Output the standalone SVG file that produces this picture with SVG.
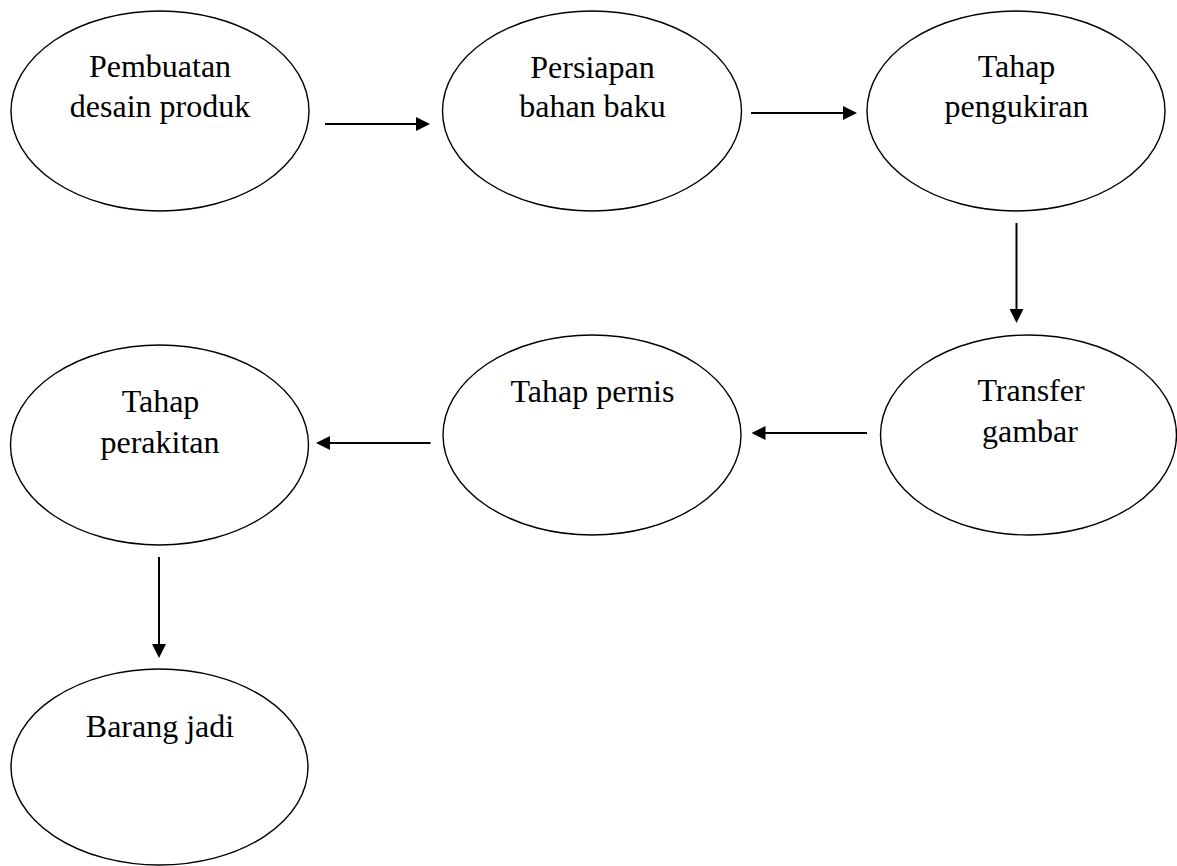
<svg xmlns="http://www.w3.org/2000/svg" width="1177" height="866" viewBox="0 0 1177 866">
<style>
.node ellipse { fill: #ffffff; stroke: #000000; stroke-width: 1.4; }
.node text { font-family: "Liberation Serif", "Times New Roman", serif; font-size: 32px; fill: #000000; text-anchor: middle; }
.conn line { stroke: #000000; stroke-width: 2; marker-end: url(#arrow); }
</style>
<defs>
<marker id="arrow" markerUnits="userSpaceOnUse" viewBox="0 0 14 14" markerWidth="14" markerHeight="14" refX="11" refY="7" orient="auto">
<path d="M0,0 L14,7 L0,14 z" fill="#000000"/>
</marker>
</defs>
<rect x="0" y="0" width="1177" height="866" fill="#ffffff"/>
<g id="n1" class="node">
<ellipse cx="160" cy="111" rx="149" ry="100"/>
<text x="160" y="77">Pembuatan</text>
<text x="160" y="117">desain produk</text>
</g>
<g id="n2" class="node">
<ellipse cx="592" cy="111" rx="149.5" ry="100"/>
<text x="592.5" y="78">Persiapan</text>
<text x="592.5" y="117">bahan baku</text>
</g>
<g id="n3" class="node">
<ellipse cx="1016" cy="111" rx="149" ry="100"/>
<text x="1016.5" y="77">Tahap</text>
<text x="1016.5" y="117">pengukiran</text>
</g>
<g id="n4" class="node">
<ellipse cx="1028.5" cy="435" rx="148" ry="100"/>
<text x="1031" y="401">Transfer</text>
<text x="1030" y="442">gambar</text>
</g>
<g id="n5" class="node">
<ellipse cx="592" cy="435" rx="149" ry="100"/>
<text x="592.5" y="401.5">Tahap pernis</text>
</g>
<g id="n6" class="node">
<ellipse cx="159.5" cy="445" rx="149" ry="100"/>
<text x="160.5" y="412">Tahap</text>
<text x="160" y="453">perakitan</text>
</g>
<g id="n7" class="node">
<ellipse cx="159.5" cy="767" rx="148.5" ry="98"/>
<text x="160" y="737">Barang jadi</text>
</g>
<g id="connectors" class="conn">
<line x1="325" y1="124" x2="427" y2="124"/>
<line x1="751" y1="113" x2="854" y2="113"/>
<line x1="1016.5" y1="223" x2="1016.5" y2="320"/>
<line x1="867" y1="433" x2="754.5" y2="433"/>
<line x1="430.5" y1="443" x2="319" y2="443"/>
<line x1="159" y1="557" x2="159" y2="655"/>
</g>
</svg>
